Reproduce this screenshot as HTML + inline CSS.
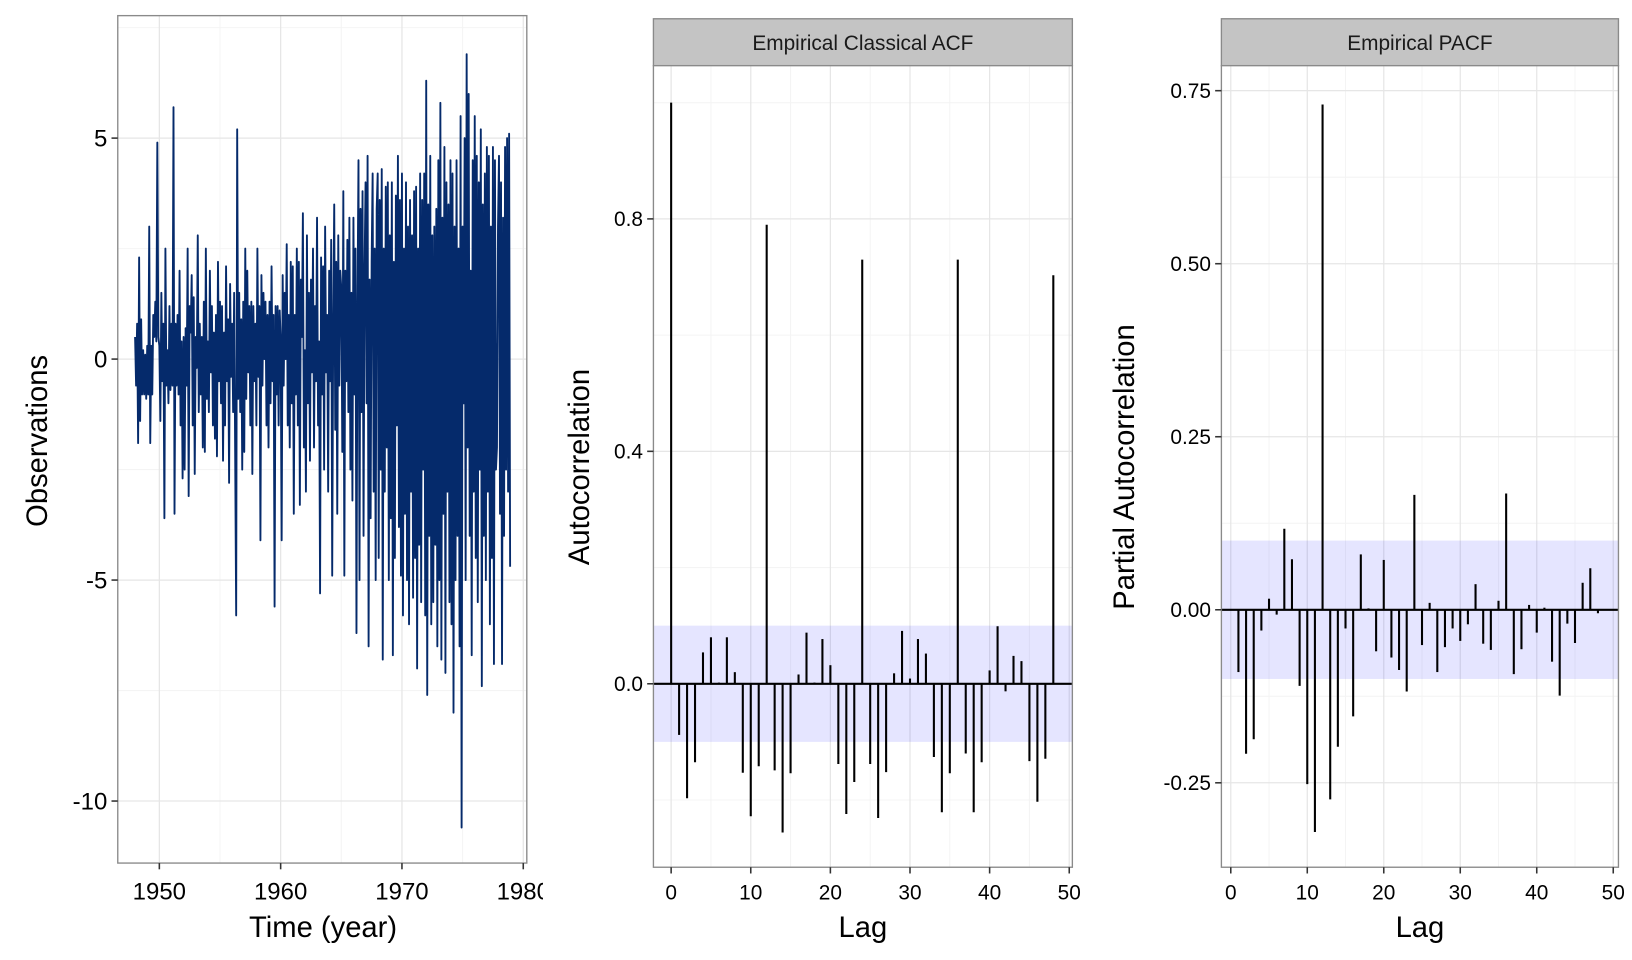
<!DOCTYPE html>
<html><head><meta charset="utf-8"><style>
html,body{margin:0;padding:0;background:#fff;}
svg{display:block;font-family:"Liberation Sans",Arial,sans-serif;}
</style></head><body>
<svg id="fig" width="1632" height="960" viewBox="0 0 1566 921" preserveAspectRatio="none" xmlns="http://www.w3.org/2000/svg"></svg>
<script>
// ---- Time series data (monthly, from 1948) ----
const tsStart = 1948;
const tsValues = [
 0.5,-0.6,0.8,-1.9,2.3,-1.4,0.9,-0.8,0.2,-0.8,0.1,-0.9,
 0.3,-0.8,3.0,-1.9,0.3,-0.8,1.0,0.5,1.3,0.4,4.9,0.5,
 0.3,-1.4,1.5,-0.5,0.8,-3.6,2.5,-0.6,0.2,-1.0,1.2,-0.7,
 0.8,-0.6,5.7,-3.5,0.8,-0.6,1.0,-0.8,2.0,-1.5,0.4,-2.7,
 0.5,-2.5,0.7,-0.6,2.5,-3.1,1.2,0.6,1.9,-1.5,1.4,-2.6,
 0.5,-0.2,2.8,-1.2,0.8,-0.8,0.5,-2.0,1.3,-2.1,2.5,-0.9,
 0.4,-1.2,2.0,-0.3,1.2,-1.5,0.6,-1.8,1.0,-2.2,2.2,-0.5,
 1.3,-1.0,1.2,-2.3,0.6,-1.5,2.1,-0.5,0.9,-2.8,1.7,-0.4,
 0.8,-1.2,1.5,-2.1,-5.8,5.2,-0.9,1.5,-1.2,0.9,-2.5,1.3,
 -2.1,2.5,-0.9,2.0,-0.3,1.2,-1.5,1.3,-2.6,1.2,-0.5,0.8,
 -1.5,2.5,-0.4,1.2,-4.1,1.9,-0.6,1.5,0.0,1.3,-1.5,1.0,
 -2.0,1.3,-1.0,2.1,-0.5,1.0,-5.6,1.2,-0.8,1.2,-1.5,1.1,
 0.5,-4.1,1.9,-0.6,1.5,0.0,2.6,-1.5,1.0,-2.0,2.2,-1.0,
 2.1,-3.5,1.0,-0.8,2.5,-1.5,2.2,-3.3,1.8,0.5,3.3,-2.0,
 0.2,-3.0,2.8,-1.0,1.5,-2.3,1.8,-0.3,2.5,-2.0,1.2,-0.5,
 3.2,-1.5,0.4,-5.3,2.3,-0.8,2.1,-2.5,3.0,-0.3,1.0,-3.0,
 2.0,-0.5,2.7,-4.9,0.8,3.5,-1.6,2.2,-3.5,2.8,-0.6,2.0,
 1.6,-2.1,3.8,-4.9,2.0,-0.5,2.7,-1.2,3.2,-2.5,1.5,-3.2,
 3.2,-0.8,2.5,-6.2,1.3,4.5,-5.0,3.4,-1.2,3.8,-4.0,2.0,
 4.0,-1.0,4.6,-6.5,1.8,-3.6,2.2,4.2,-3.0,2.5,-5.0,3.4,
 4.2,-4.5,3.6,-2.5,4.3,-6.8,2.5,-3.0,3.9,-2.0,4.0,-5.0,
 2.8,-3.6,4.0,-6.7,2.2,-4.5,3.7,-1.5,4.6,-3.8,3.6,-4.9,
 4.2,-5.8,2.5,-3.5,4.0,-5.0,3.0,-6.0,3.6,-3.0,2.8,-5.4,
 3.8,-4.5,3.9,-7.0,2.5,-4.2,4.2,-5.5,3.6,-2.5,4.2,-5.8,
 6.3,-7.6,3.5,-4.0,4.6,-6.0,2.8,-5.5,3.0,-4.2,3.4,-6.5,
 4.5,-5.0,5.8,-6.8,3.2,-3.5,4.8,-7.1,4.0,-3.0,3.5,-5.5,
 4.5,-6.0,4.2,-8.0,3.0,-5.0,4.5,-4.0,2.5,-6.5,5.5,-10.6,
 3.0,-1.0,5.0,-5.0,6.9,-2.0,6.0,-4.0,2.0,-6.7,4.5,-3.0,
 5.5,-4.5,4.6,-5.5,4.0,-2.5,5.2,-7.4,3.5,-4.0,4.2,-5.0,
 4.8,-3.0,4.6,-6.0,3.0,-4.5,4.8,-6.9,4.5,-2.5,-2.0,3.0,
 4.6,-3.5,4.0,-6.9,3.2,-4.0,4.8,-2.5,5.0,-3.0,5.1,-4.7
];
// ---- ACF ----
const acfLags = [0,1,2,3,4,5,6,7,8,9,10,11,12,13,14,15,16,17,18,19,20,21,22,23,24,25,26,27,28,29,30,31,32,33,34,35,36,37,38,39,40,41,42,43,44,45,46,47,48];
const acfValues = [1.0,-0.088,-0.197,-0.135,0.054,0.08,0.002,0.08,0.02,-0.153,-0.228,-0.142,0.79,-0.149,-0.256,-0.154,0.016,0.088,0.002,0.077,0.032,-0.138,-0.224,-0.169,0.73,-0.138,-0.231,-0.152,0.018,0.091,0.009,0.077,0.052,-0.126,-0.221,-0.154,0.73,-0.12,-0.221,-0.135,0.023,0.099,-0.013,0.048,0.039,-0.133,-0.203,-0.129,0.703];
// ---- PACF ----
const pacfLags = [1,2,3,4,5,6,7,8,9,10,11,12,13,14,15,16,17,18,19,20,21,22,23,24,25,26,27,28,29,30,31,32,33,34,35,36,37,38,39,40,41,42,43,44,45,46,47,48];
const pacfValues = [-0.09,-0.208,-0.187,-0.03,0.016,-0.007,0.117,0.073,-0.11,-0.252,-0.321,0.73,-0.274,-0.198,-0.027,-0.154,0.08,0.002,-0.06,0.072,-0.069,-0.087,-0.118,0.166,-0.051,0.01,-0.09,-0.054,-0.027,-0.045,-0.021,0.037,-0.049,-0.058,0.013,0.168,-0.093,-0.057,0.007,-0.033,0.003,-0.075,-0.124,-0.02,-0.048,0.039,0.06,-0.005];
const ciBand = 0.1;
const tsXTicks = [1950,1960,1970,1980];
const tsYTicks = [5,0,-5,-10];
const acfXTicks = [0,10,20,30,40,50];
const acfYTicks = [0.0,0.4,0.8];
const acfYLabels = ["0.0","0.4","0.8"];
const pacfYTicks = [-0.25,0,0.25,0.5,0.75];
const pacfYLabels = ["-0.25","0.00","0.25","0.50","0.75"];

const NS="http://www.w3.org/2000/svg";
const svg=document.getElementById('fig');
function mk(tag,attrs,parent){const e=document.createElementNS(NS,tag);for(const k in attrs)e.setAttribute(k,attrs[k]);(parent||svg).appendChild(e);return e;}
function lin(d0,d1,r0,r1){return v=>r0+(v-d0)*(r1-r0)/(d1-d0);}
function txt(x,y,s,size,anchor,parent,rot){const t=mk('text',{x:x,y:y,'font-size':size,'text-anchor':anchor||'middle',fill:'#000'},parent);if(rot)t.setAttribute('transform','rotate(-90 '+x+' '+y+')');t.textContent=s;return t;}

function panel(name,L,T,R,B,xs,ys,xMaj,xMin,yMaj,yMin){
  const g=mk('g',{});
  
  
  mk('rect',{x:L,y:T,width:R-L,height:B-T,fill:'#fff'},g);
  xMin.forEach(v=>{const x=xs(v);if(x>L&&x<R)mk('line',{x1:x,x2:x,y1:T,y2:B,stroke:'#f4f4f4','stroke-width':1},g);});
  yMin.forEach(v=>{const y=ys(v);if(y>T&&y<B)mk('line',{x1:L,x2:R,y1:y,y2:y,stroke:'#f4f4f4','stroke-width':1},g);});
  xMaj.forEach(v=>{const x=xs(v);if(x>L&&x<R)mk('line',{x1:x,x2:x,y1:T,y2:B,stroke:'#e6e6e6','stroke-width':1.2},g);});
  yMaj.forEach(v=>{const y=ys(v);if(y>T&&y<B)mk('line',{x1:L,x2:R,y1:y,y2:y,stroke:'#e6e6e6','stroke-width':1.2},g);});
  return g;
}
function border(L,T,R,B){const r=mk('rect',{x:L,y:T,width:R-L,height:B-T,fill:'none',stroke:'#8a8a8a','stroke-width':1.3});}

// ===== Panel 1: time series =====
{
 const L=113,T=15,R=505.5,B=828;
 const xs=lin(1950,1960,152.9,269.3), ys=lin(0,5,344.5,132.5);
 panel('time-series-panel',L,T,R,B,xs,ys,tsXTicks,[1945,1955,1965,1975],tsYTicks,[7.5,2.5,-2.5,-7.5]);
 let d='';
 tsValues.forEach((v,i)=>{d+=(i?'L':'M')+xs(tsStart+i/12).toFixed(2)+' '+ys(v).toFixed(2);});
 const p=mk('path',{d:d,fill:'none',stroke:'#052a6b','stroke-width':1.8,'stroke-linejoin':'round'});
 
 
 border(L,T,R,B);
 const ax=mk('g',{});  
 const cp=mk('clipPath',{id:'c1'});mk('rect',{x:0,y:0,width:521,height:921},cp);
 ax.setAttribute('clip-path','url(#c1)');
 tsXTicks.forEach(v=>{const x=xs(v);mk('line',{x1:x,x2:x,y1:B,y2:B+6,stroke:'#333','stroke-width':1.5},ax);txt(x,B+35,String(v),23,'middle',ax);});
 const ay=mk('g',{});  
 tsYTicks.forEach(v=>{const y=ys(v);mk('line',{x1:L-6,x2:L,y1:y,y2:y,stroke:'#333','stroke-width':1.5},ay);txt(L-10,y+8,String(v),23,'end',ay);});
 const xt=txt(310,899,'Time (year)',28,'middle');  
 const yt=txt(45,423,'Observations',28,'middle',null,true);  
}

function corrPanel(name,title,L,T,R,B,xs,ys,lags,vals,yT,yLbl,yMin,ytitle,ytx){
 const s=mk('rect',{x:L,y:18,width:R-L,height:45,fill:'#c4c4c4',stroke:'#8a8a8a','stroke-width':1.3});
  
 const st=txt((L+R)/2,48,title,20,'middle');  
 st.setAttribute('fill','#1a1a1a');
 panel(name+'-panel',L,T,R,B,xs,ys,acfXTicks,[5,15,25,35,45],yT,yMin);
 const band=mk('rect',{x:L,y:ys(ciBand),width:R-L,height:ys(-ciBand)-ys(ciBand),fill:'#0000ff','fill-opacity':0.1});
  
 const z=mk('line',{x1:L,x2:R,y1:ys(0),y2:ys(0),stroke:'#000','stroke-width':2});
  
 lags.forEach((l,i)=>{const b=mk('line',{x1:xs(l),x2:xs(l),y1:ys(0),y2:ys(vals[i]),stroke:'#000','stroke-width':2});
   });
 border(L,T,R,B);
 const ax=mk('g',{});  
 acfXTicks.forEach(v=>{const x=xs(v);mk('line',{x1:x,x2:x,y1:B,y2:B+6,stroke:'#333','stroke-width':1.5},ax);txt(x,B+31,String(v),20,'middle',ax);});
 const ay=mk('g',{});  
 yT.forEach((v,i)=>{const y=ys(v);mk('line',{x1:L-6,x2:L,y1:y,y2:y,stroke:'#333','stroke-width':1.5},ay);txt(L-10,y+7,yLbl[i],20,'end',ay);});
 const xt=txt((L+R)/2,899,'Lag',28,'middle');  
 const yt=txt(ytx,448,ytitle,28,'middle',null,true);  
}
// ===== Panel 2: ACF =====
corrPanel('acf','Empirical Classical ACF',627,63,1029,832,lin(0,50,644,1026),lin(0,0.4,656,433),acfLags,acfValues,acfYTicks,acfYLabels,[-0.2,0.2,0.6,1.0],'Autocorrelation',565);
// ===== Panel 3: PACF =====
corrPanel('pacf','Empirical PACF',1172,63,1553,832,lin(0,50,1181,1548),lin(0,0.25,585,419),pacfLags,pacfValues,pacfYTicks,pacfYLabels,[-0.375,-0.125,0.125,0.375,0.625],'Partial Autocorrelation',1088);
</script>
</body></html>
